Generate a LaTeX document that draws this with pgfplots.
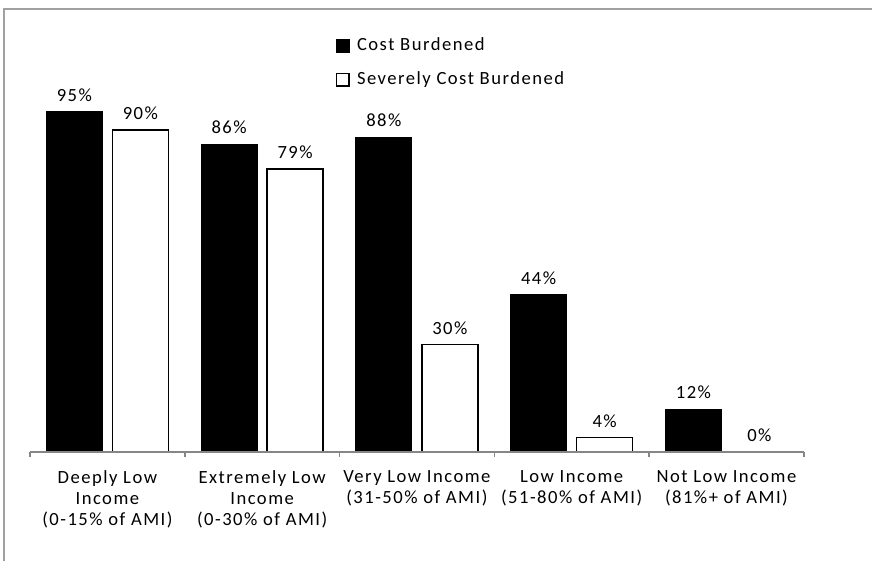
\documentclass[border=0pt]{standalone}
\usepackage{fontspec}
\setmainfont{Carlito}[LetterSpace=8]
\usepackage{pgfplots}
\pgfplotsset{compat=1.18}
\definecolor{framegray}{HTML}{A0A0A0}
\definecolor{axisgray}{HTML}{868686}

\begin{document}
\begin{tikzpicture}[font=\fontsize{9.3}{10.5}\selectfont]
\useasboundingbox (0,0) rectangle (436pt,280.5pt);
% chart area border (top and left edges)
\draw[framegray, line width=1pt] (2pt,0) -- (2pt,276pt) -- (436pt,276pt);
\begin{axis}[
  at={(15pt,54.5pt)}, anchor=south west,
  scale only axis, width=386.9pt, height=178.95pt,
  ymin=0, ymax=100, xmin=-0.5, xmax=4.5,
  axis y line=none, axis x line=bottom,
  x axis line style={-, axisgray, line width=0.75pt},
  axis on top,
  xtick={0,...,4},
  xticklabels={
    {Deeply Low\\Income\\(0-15\% of AMI)},
    {Extremely Low\\Income\\(0-30\% of AMI)},
    {Very Low Income\\(31-50\% of AMI)},
    {Low Income\\(51-80\% of AMI)},
    {Not Low Income\\(81\%+ of AMI)}},
  major x tick style={draw=none},
  minor xtick={-0.5,0.5,...,4.5},
  minor x tick style={axisgray, line width=0.75pt},
  minor tick length=2.5pt,
  tick align=outside,
  xticklabel style={align=center, yshift=-1.5pt},
  ybar=5pt, bar width=28pt,
  nodes near coords={\pgfmathprintnumber{\pgfplotspointmeta}\%},
  every node near coord/.append style={yshift=1.5pt, black},
  /pgf/number format/assume math mode=true,
  clip=false,
  legend style={draw=none, fill=none, at={(0.395,1.17)}, anchor=north west,
    inner sep=0pt, row sep=5pt},
  legend cell align=left,
]
\addplot[fill=black, draw=black, line width=0.5pt,
  legend image code/.code={\draw[fill=black,draw=black,line width=0.5pt] (0pt,-3.2pt) rectangle (6.2pt,3.2pt); \path (7.8pt,0pt);}]
  coordinates {(0,95) (1,86) (2,88) (3,44) (4,12)};
\addlegendentry{Cost Burdened}
\addplot[fill=white, draw=black, line width=0.8pt,
  legend image code/.code={\draw[fill=white,draw=black,line width=0.6pt] (0pt,-3.2pt) rectangle (6.2pt,3.2pt); \path (7.8pt,0pt);}]
  coordinates {(0,90) (1,79) (2,30) (3,4) (4,0)};
\addlegendentry{Severely Cost Burdened}
\end{axis}
\end{tikzpicture}
\end{document}
